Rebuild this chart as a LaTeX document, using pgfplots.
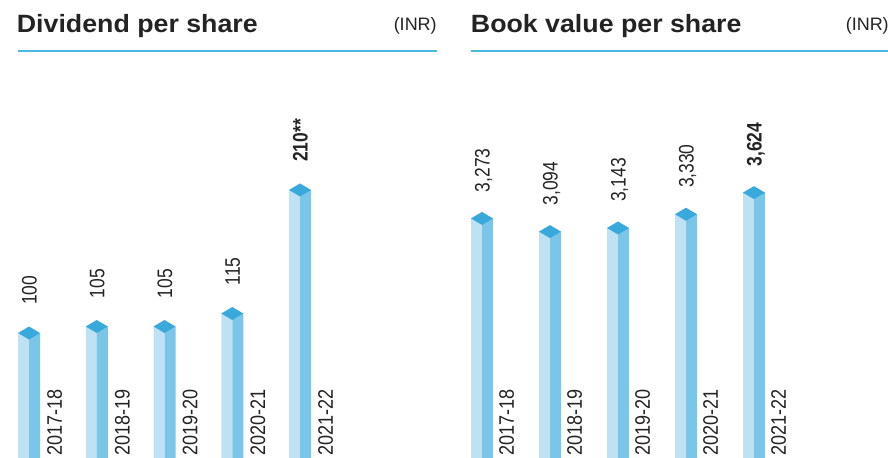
\documentclass[border=0pt]{standalone}
\usepackage{pgfplots}
\pgfplotsset{compat=1.18}
\usepackage{fontspec}
\setmainfont{Liberation Sans}
\newfontfamily\titlefont[FakeStretch=1.07]{Liberation Sans}
\newfontfamily\valfont[FakeStretch=0.83]{Liberation Sans}
\newfontfamily\catfont[FakeStretch=0.86]{Liberation Sans}

\definecolor{faceL}{RGB}{190,225,243}
\definecolor{faceR}{RGB}{123,197,233}
\definecolor{faceTop}{RGB}{57,169,219}
\definecolor{rulecol}{RGB}{75,184,228}
\definecolor{ink}{RGB}{35,35,35}

% top of each column: a flat diamond centred on the value
\pgfdeclareplotmark{cubetop}{%
  \pgfpathmoveto{\pgfqpoint{-8.25pt}{0pt}}%
  \pgfpathlineto{\pgfqpoint{0pt}{4.875pt}}%
  \pgfpathlineto{\pgfqpoint{8.25pt}{0pt}}%
  \pgfpathlineto{\pgfqpoint{0pt}{-4.875pt}}%
  \pgfpathclose
  \pgfusepathqfill}

\pgfplotsset{
  cubebars/.style={
    scale only axis, clip=false, anchor=south west,
    xmin=-0.5, xmax=4.5, ymin=0,
    axis line style={draw=none},
    major tick length=0pt,
    ytick=\empty,
    xticklabels={2017-18,2018-19,2019-20,2020-21,2021-22},
    xticklabel style={rotate=90, anchor=base west, inner sep=0pt,
      font=\catfont\fontsize{15.75}{18}\selectfont, text=ink},
  },
  leftface/.style={ybar, bar width=8.25pt, bar shift=-4.125pt, fill=faceL, draw=none},
  rightface/.style={ybar, bar width=8.25pt, bar shift=4.125pt, fill=faceR, draw=none},
  topface/.style={only marks, mark=cubetop, color=faceTop,
    point meta=explicit symbolic, nodes near coords},
}

\begin{document}
\begin{tikzpicture}
\path[use as bounding box] (0,0) rectangle (666pt,342.75pt);

% Dividend per share
\begin{axis}[cubebars,
  at={(-3.656pt,-4.5pt)}, width=254.0625pt, height=347.25pt, ymax=356.15,
  xtick={0.487,1.487,2.487,3.487,4.487},
  xticklabel style={xshift=5.25pt},
  nodes near coords style={rotate=90, anchor=base west, inner sep=0pt,
    xshift=21pt, yshift=-5.625pt, text=ink,
    font=\valfont\fontsize{15.75}{18}\selectfont},
]
\addplot[leftface] coordinates {(0,100) (1,105) (2,105) (3,115) (4,210)};
\addplot[rightface] coordinates {(0,100) (1,105) (2,105) (3,115) (4,210)};
\addplot[topface] coordinates {(0,100) [100] (1,105) [105] (2,105) [105]
  (3,115) [115] (4,210) [\textbf{210**}]};
\end{axis}

% Book value per share
\begin{axis}[cubebars,
  at={(336pt,-1.5pt)}, width=255pt, height=344.25pt, ymax=6244.9,
  xtick={0.47,1.47,2.47,3.47,4.47},
  xticklabel style={xshift=2.25pt},
  nodes near coords style={rotate=90, anchor=base west, inner sep=0pt,
    xshift=19.5pt, yshift=-5.625pt, text=ink,
    font=\valfont\fontsize{15.75}{18}\selectfont},
]
\addplot[leftface] coordinates {(0,3273) (1,3094) (2,3143) (3,3330) (4,3624)};
\addplot[rightface] coordinates {(0,3273) (1,3094) (2,3143) (3,3330) (4,3624)};
\addplot[topface] coordinates {(0,3273) [3{,}273] (1,3094) [3{,}094]
  (2,3143) [3{,}143] (3,3330) [3{,}330] (4,3624) [\textbf{3{,}624}]};
\end{axis}

% headings and rules
\node[anchor=base west, inner sep=0pt, text=ink,
  font=\titlefont\bfseries\fontsize{18.75}{20}\selectfont] at (12.5pt,318pt) {Dividend per share};
\node[anchor=base east, inner sep=0pt, text=ink,
  font=\fontsize{13.5}{16}\selectfont] at (327.75pt,319.9pt) {(INR)};
\draw[rulecol, line width=0.9pt] (13.5pt,304.5pt) -- (327.75pt,304.5pt);

\node[anchor=base west, inner sep=0pt, text=ink,
  font=\titlefont\bfseries\fontsize{18.75}{20}\selectfont] at (353pt,318pt) {Book value per share};
\node[anchor=base east, inner sep=0pt, text=ink,
  font=\fontsize{13.5}{16}\selectfont] at (666.75pt,319.9pt) {(INR)};
\draw[rulecol, line width=0.9pt] (353.25pt,304.5pt) -- (666pt,304.5pt);
\end{tikzpicture}
\end{document}
